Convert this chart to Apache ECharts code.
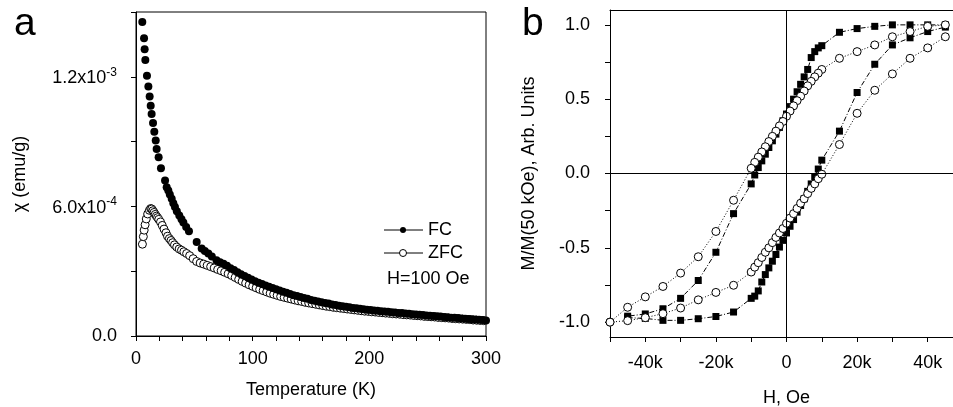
<!DOCTYPE html>
<html>
<head>
<meta charset="utf-8">
<script src="https://cdn.jsdelivr.net/npm/echarts@6/dist/echarts.min.js"></script>
<style>
html, body { margin: 0; padding: 0; background: #fff; }
#chart { width: 953px; height: 407px; }
</style>
</head>
<body>
<div id="chart"></div>
<script>
// panel a: susceptibility, chi in units of 1e-4 emu/g
var fcTemp = [5.4, 6.9, 7.4, 8.0, 9.4, 10.6, 11.7, 12.6, 13.4, 14.6, 15.7, 16.9, 17.7, 19.4, 21.4, 24.9, 26.3, 27.7, 29, 30.6,
  32, 33.4, 35, 37.1, 39, 40.6, 43, 45.4, 52, 56.3, 59, 62, 65, 69, 72, 75, 78, 81, 84, 87, 90, 93, 96, 99,
  102, 105, 108, 111, 114, 117, 120, 123, 126, 129, 132, 135, 138, 141, 144, 147, 150, 153, 156, 159,
  162, 165, 168, 171, 174, 177, 180, 183, 186, 189, 192, 195, 198, 201, 204, 207, 210, 213, 216, 219,
  222, 225, 228, 231, 234, 237, 240, 243, 246, 249, 252, 255, 258, 261, 264, 267, 270, 273, 276, 279,
  282, 285, 288, 291, 294, 297, 300];
var fcChi = [14.54, 13.79, 13.28, 12.78, 12.05, 11.55, 11.09, 10.66, 10.28, 9.86, 9.46, 9.05, 8.66, 8.28, 7.77, 7.20, 6.89, 6.74, 6.55, 6.35,
  6.15, 5.97, 5.78, 5.58, 5.40, 5.25, 5.05, 4.85, 4.35, 4.05, 3.93, 3.82, 3.68, 3.51, 3.42, 3.35, 3.25, 3.14, 3.05, 2.95, 2.86, 2.78, 2.70, 2.62,
  2.54, 2.47, 2.41, 2.34, 2.28, 2.22, 2.16, 2.11, 2.05, 2.00, 1.94, 1.89, 1.85, 1.80, 1.76, 1.72, 1.67, 1.63, 1.60, 1.56,
  1.53, 1.50, 1.46, 1.43, 1.40, 1.38, 1.35, 1.33, 1.30, 1.28, 1.26, 1.24, 1.22, 1.20, 1.18, 1.17, 1.15, 1.13, 1.12, 1.10,
  1.09, 1.07, 1.06, 1.04, 1.03, 1.01, 1.00, 0.98, 0.97, 0.95, 0.94, 0.93, 0.91, 0.90, 0.88, 0.87, 0.85, 0.84, 0.83, 0.81,
  0.80, 0.79, 0.77, 0.76, 0.75, 0.74, 0.72];

var zfcTemp = [5.5, 6.3, 7.0, 7.8, 8.8, 10.0, 11.5, 12.6, 13.5, 14.5, 15.5, 16.5, 17.5, 18.5, 19.5, 21, 22.5, 24, 25.7, 27,
  28.6, 30, 31.4, 33, 34.9, 37, 39, 41, 43.4, 46, 49, 52, 55, 58, 61, 64, 67, 70, 73, 76, 79, 82, 85, 88, 91, 94, 97,
  100, 103, 106, 109, 112, 115, 118, 121, 124, 127, 130, 133, 136, 139, 142, 145, 148, 151, 154, 157,
  160, 163, 166, 169, 172, 175, 178, 181, 184, 187, 190, 193, 196, 199, 202, 205, 208, 211, 214, 217,
  220, 223, 226, 229, 232, 235, 238, 241, 244, 247, 250, 253, 256, 259, 262, 265, 268, 271, 274, 277,
  280, 283, 286, 289, 292, 295, 298];
var zfcChi = [4.25, 4.60, 4.90, 5.15, 5.42, 5.65, 5.82, 5.90, 5.88, 5.80, 5.72, 5.63, 5.55, 5.48, 5.40, 5.28, 5.12, 4.95, 4.78, 4.62,
  4.51, 4.42, 4.32, 4.22, 4.12, 4.03, 3.97, 3.90, 3.82, 3.72, 3.58, 3.45, 3.38, 3.33, 3.27, 3.21, 3.15, 3.08, 3.02, 2.95, 2.88, 2.80, 2.71, 2.62, 2.53, 2.45, 2.37,
  2.30, 2.23, 2.16, 2.10, 2.04, 1.98, 1.93, 1.88, 1.83, 1.79, 1.75, 1.71, 1.67, 1.63, 1.60, 1.56, 1.53, 1.50, 1.47, 1.44,
  1.41, 1.38, 1.36, 1.33, 1.31, 1.29, 1.27, 1.25, 1.23, 1.21, 1.19, 1.17, 1.15, 1.14, 1.12, 1.11, 1.09, 1.08, 1.06, 1.05,
  1.03, 1.02, 1.01, 0.99, 0.98, 0.97, 0.95, 0.94, 0.93, 0.91, 0.90, 0.89, 0.88, 0.86, 0.85, 0.84, 0.83, 0.81, 0.80, 0.79,
  0.78, 0.77, 0.76, 0.74, 0.73, 0.72, 0.71];

// panel b: hysteresis loops, field in kOe, M normalised
var hDown = [45, 40, 35, 30, 25, 20, 15, 10, 9, 8, 7, 6, 5, 4, 3, 2, 1, 0, -1, -2, -3, -4, -5, -6, -7, -8, -9, -10, -15, -20, -25, -30, -35, -40, -45];
var hUp = [-45, -40, -35, -30, -25, -20, -15, -10, -9, -8, -7, -6, -5, -4, -3, -2, -1, 0, 1, 2, 3, 4, 5, 6, 7, 8, 9, 10, 15, 20, 25, 30, 35, 40, 45];
var sqDown = [1.00, 1.00, 1.00, 1.00, 0.99, 0.975, 0.95, 0.86, 0.845, 0.82, 0.78, 0.70, 0.65, 0.60, 0.55, 0.50, 0.45, 0.40,
  0.355, 0.31, 0.265, 0.22, 0.175, 0.13, 0.085, 0.04, -0.01, -0.07, -0.27, -0.53, -0.72, -0.84, -0.91, -0.945, -0.96];
var sqUp = [-0.97, -0.975, -0.988, -0.988, -0.977, -0.962, -0.932, -0.84, -0.825, -0.79, -0.73, -0.68, -0.635, -0.59, -0.545, -0.495, -0.45, -0.40,
  -0.355, -0.31, -0.26, -0.215, -0.17, -0.12, -0.07, -0.02, 0.03, 0.09, 0.285, 0.545, 0.735, 0.865, 0.913, 0.955, 0.985];
var hCircDown = [45, 40, 35, 30, 25, 20, 15, 10, 9, 8, 7, 6, 5, 4, 3, 2, 1, 0, -1, -2, -3, -4, -5, -6, -7, -8, -9, -10, -15, -20, -25, -30, -35, -40, -45, -50];
var hCircUp = [-50, -45, -40, -35, -30, -25, -20, -15, -10, -9, -8, -7, -6, -5, -4, -3, -2, -1, 0, 1, 2, 3, 4, 5, 6, 7, 8, 9, 10, 15, 20, 25, 30, 35, 40, 45];
var circDown = [1.00, 0.99, 0.955, 0.92, 0.865, 0.82, 0.775, 0.70, 0.675, 0.65, 0.62, 0.59, 0.555, 0.52, 0.49, 0.455, 0.42, 0.385,
  0.35, 0.32, 0.285, 0.25, 0.215, 0.18, 0.145, 0.11, 0.075, 0.035, -0.18, -0.39, -0.56, -0.67, -0.76, -0.83, -0.90, -1.0];
var circUp = [-1.0, -0.99, -0.97, -0.943, -0.905, -0.85, -0.80, -0.752, -0.663, -0.63, -0.60, -0.565, -0.53, -0.50, -0.465, -0.43, -0.40, -0.37,
  -0.335, -0.30, -0.27, -0.235, -0.20, -0.17, -0.135, -0.10, -0.07, -0.035, -0.005, 0.195, 0.405, 0.56, 0.67, 0.775, 0.845, 0.92];

var chiTicks = ['0.0', '', '{b|6.0x10}{s|-4}', '', '{b|1.2x10}{s|-3}', ''];
var mTicks = [-1, -0.75, -0.5, -0.25, 0, 0.25, 0.5, 0.75, 1];
var mLabels = [-1, -0.5, 0, 0.5, 1];

var font = '"Liberation Sans", Arial, sans-serif';
var black = '#000';

function pairs(xs, ys, k) {
  return xs.map(function (x, i) { return [x * k, ys[i]]; });
}

var chart = echarts.init(document.getElementById('chart'));

var axisBase = {
  axisLine: { onZero: false, lineStyle: { color: black, width: 1 } },
  axisTick: { length: 5, lineStyle: { color: black } },
  splitLine: { show: false },
  nameLocation: 'middle',
  nameTextStyle: { fontSize: 18, color: black, fontFamily: font }
};

chart.setOption({
  backgroundColor: '#fff',
  animation: false,
  textStyle: { fontFamily: font },
  title: [
    { text: 'a', left: 9, top: 0, textStyle: { fontSize: 39, fontWeight: 'normal', color: black, fontFamily: font } },
    { text: 'b', left: 517, top: 0, textStyle: { fontSize: 39, fontWeight: 'normal', color: black, fontFamily: font } }
  ],
  grid: [
    { left: 136, top: 12, width: 350, height: 324, show: true, borderColor: black, borderWidth: 1, outerBoundsMode: 'none' },
    { left: 610, top: 10, right: -10, height: 327, outerBoundsMode: 'none' }
  ],
  xAxis: [
    Object.assign({}, axisBase, {
      gridIndex: 0, type: 'value', min: 0, max: 300, interval: 20,
      name: 'Temperature (K)', nameGap: 45,
      axisLabel: {
        fontSize: 18, color: black, margin: 14,
        formatter: function (v) { return v % 100 === 0 ? String(v) : ''; }
      }
    }),
    Object.assign({}, axisBase, {
      gridIndex: 1, type: 'value', min: -50000, max: 50000, interval: 10000,
      name: 'H, Oe', nameGap: 52,
      axisLabel: {
        fontSize: 18, color: black, margin: 17,
        formatter: function (v) {
          if (v % 20000 !== 0) return '';
          return v === 0 ? '0' : (v / 1000) + 'k';
        }
      }
    }),
    {
      gridIndex: 1, type: 'value', position: 'top', min: -50000, max: 50000,
      axisLine: { onZero: false, lineStyle: { color: black } },
      axisTick: { show: false }, axisLabel: { show: false }, splitLine: { show: false }
    }
  ],
  yAxis: [
    Object.assign({}, axisBase, {
      gridIndex: 0, type: 'value', min: 0, max: 15, interval: 3,
      name: 'χ (emu/g)', nameGap: 107,
      axisLabel: {
        fontSize: 18, color: black, margin: 19,
        formatter: function (v) { return chiTicks[Math.round(v / 3)] || ''; },
        rich: {
          b: { fontSize: 18, color: black, fontFamily: font, lineHeight: 21, verticalAlign: 'bottom' },
          s: { fontSize: 12, color: black, fontFamily: font, lineHeight: 21, verticalAlign: 'top' }
        }
      }
    }),
    Object.assign({}, axisBase, {
      gridIndex: 1, type: 'value', min: -1.1, max: 1.1,
      name: 'M/M(50 kOe), Arb. Units', nameGap: 72,
      axisTick: { length: 5, lineStyle: { color: black }, customValues: mTicks },
      axisLabel: {
        fontSize: 18, color: black, margin: 20, customValues: mLabels,
        formatter: function (v) { return v.toFixed(1); }
      }
    })
  ],
  graphic: [
    { type: 'line', shape: { x1: 384, y1: 230, x2: 423, y2: 230 }, style: { stroke: black, lineWidth: 1 } },
    { type: 'circle', shape: { cx: 403, cy: 230, r: 3 }, style: { fill: black } },
    { type: 'text', left: 428, top: 221, style: { text: 'FC', fontSize: 18, fill: black, font: '18px ' + font } },
    { type: 'line', shape: { x1: 384, y1: 253, x2: 423, y2: 253 }, style: { stroke: black, lineWidth: 1 } },
    { type: 'circle', shape: { cx: 403, cy: 253, r: 3.5 }, style: { fill: '#fff', stroke: black, lineWidth: 1 } },
    { type: 'text', left: 428, top: 244, style: { text: 'ZFC', fontSize: 18, fill: black, font: '18px ' + font } },
    { type: 'text', left: 387, top: 270, style: { text: 'H=100 Oe', fontSize: 18, fill: black, font: '18px ' + font } }
  ],
  series: [
    {
      name: 'ZFC', type: 'scatter', xAxisIndex: 0, yAxisIndex: 0,
      data: pairs(zfcTemp, zfcChi, 1),
      symbol: 'circle', symbolSize: 8,
      itemStyle: { color: '#fff', borderColor: black, borderWidth: 1, opacity: 1 }
    },
    {
      name: 'FC', type: 'scatter', xAxisIndex: 0, yAxisIndex: 0,
      data: pairs(fcTemp, fcChi, 1),
      symbol: 'circle', symbolSize: 8,
      itemStyle: { color: black, opacity: 1 }
    },
    {
      name: 'sq-down', type: 'line', xAxisIndex: 1, yAxisIndex: 1,
      data: pairs(hDown, sqDown, 1000),
      symbol: 'rect', symbolSize: 7, showAllSymbol: true,
      itemStyle: { color: black },
      lineStyle: { color: black, width: 1, type: [5, 2, 1, 2] },
      markLine: {
        silent: true, symbol: ['none', 'none'], label: { show: false },
        lineStyle: { color: black, width: 1, type: 'solid' },
        data: [{ xAxis: 0 }, { yAxis: 0 }]
      }
    },
    {
      name: 'sq-up', type: 'line', xAxisIndex: 1, yAxisIndex: 1,
      data: pairs(hUp, sqUp, 1000),
      symbol: 'rect', symbolSize: 7, showAllSymbol: true,
      itemStyle: { color: black },
      lineStyle: { color: black, width: 1, type: [5, 2, 1, 2] }
    },
    {
      name: 'circ-down', type: 'line', xAxisIndex: 1, yAxisIndex: 1,
      data: pairs(hCircDown, circDown, 1000),
      symbol: 'circle', symbolSize: 8, showAllSymbol: true,
      itemStyle: { color: '#fff', borderColor: black, borderWidth: 1 },
      lineStyle: { color: black, width: 1, type: [1, 2] }
    },
    {
      name: 'circ-up', type: 'line', xAxisIndex: 1, yAxisIndex: 1,
      data: pairs(hCircUp, circUp, 1000),
      symbol: 'circle', symbolSize: 8, showAllSymbol: true,
      itemStyle: { color: '#fff', borderColor: black, borderWidth: 1 },
      lineStyle: { color: black, width: 1, type: [1, 2] }
    }
  ]
});
</script>
</body>
</html>
